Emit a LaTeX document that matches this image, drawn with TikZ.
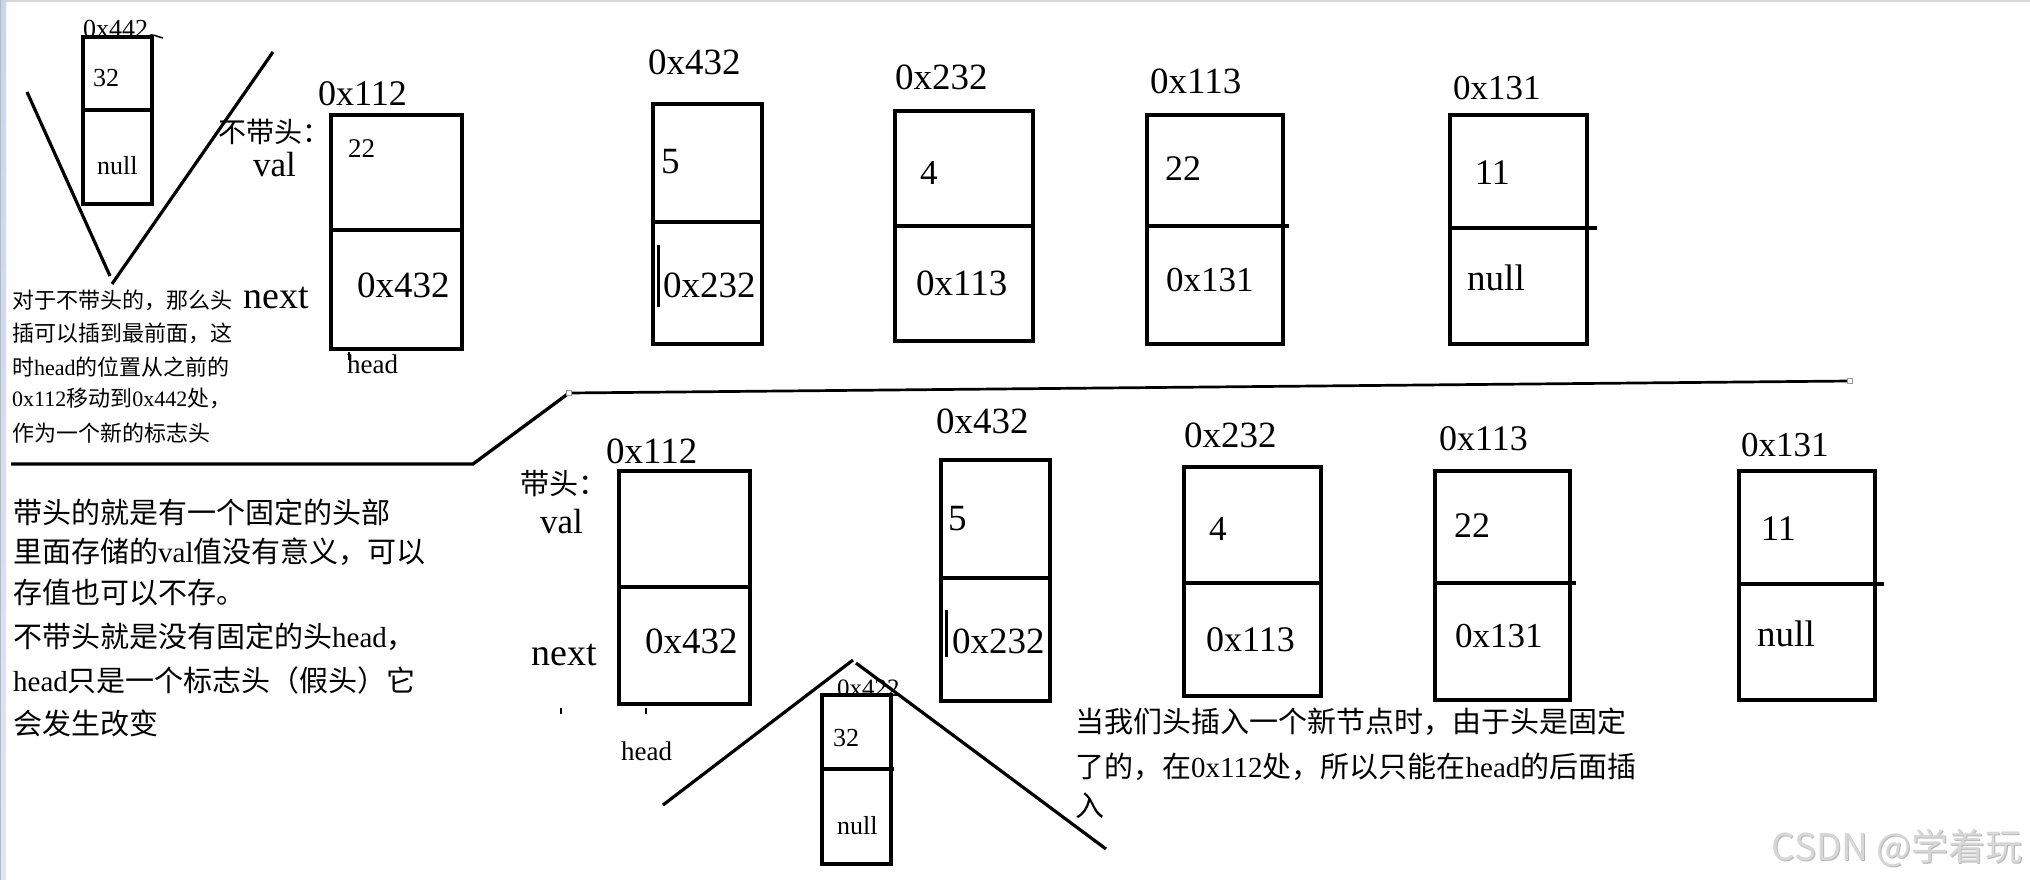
\documentclass[tikz,border=0pt]{standalone}
\usepackage{fontspec}
\setmainfont{Liberation Serif}
\newfontfamily\cjk{Noto Sans CJK SC}
\newcommand\myfs[1]{\fontsize{#1}{#1}\selectfont}
\definecolor{stripblue}{RGB}{200,213,238}
\definecolor{stripblue2}{RGB}{222,231,247}
\definecolor{wmgray}{RGB}{215,215,215}
\tikzset{
  boxline/.style={line width=3.5pt},
  vline/.style={line width=3.2pt},
  lbl/.style={inner sep=0pt, anchor=base west},
  zh/.style={inner sep=0pt, anchor=west},
  endsq/.style={draw=gray!80, fill=white, line width=0.9pt},
}
\begin{document}
\begin{tikzpicture}[x=1pt,y=-1pt]
\fill[white] (0,0) rectangle (2030,880);
\path[use as bounding box] (0,0) rectangle (2030,880);
% frame of the screenshot
\shade[top color=stripblue, bottom color=stripblue2] (1,0) rectangle (6,880);
\fill[gray!55] (0,0) rectangle (1,880);
\fill[gray!30] (6,0) rectangle (2030,2.5);

% ===== top-left: new node 0x442 and V =====
\node[lbl, font=\myfs{26}] (a442) at (83,38) {0x442};
\draw[line width=1.5pt] (148,36) .. controls (153,33) and (157,37) .. (163,38);
\draw[boxline] (83,37) rectangle (152,204);
\draw[boxline] (83,110) -- (154,110);
\node[lbl, font=\myfs{26}] (a32) at (93,87) {32};
\node[lbl, font=\myfs{26}] (anull) at (97,175) {null};
\draw[vline] (27,92) -- (110,276);
\draw[vline] (112,284) -- (273,52);

% text block upper-left
\node[zh, font=\cjk\myfs{22}] (u1) at (12,300) {对于不带头的，那么头};
\node[zh, font=\cjk\myfs{22}] (u2) at (12,333) {插可以插到最前面，这};
\node[zh, font=\myfs{22}] (u3) at (12,367) {{\cjk 时}head{\cjk 的位置从之前的}};
\node[zh, font=\myfs{22}] (u4) at (12,398) {0x112{\cjk 移动到}0x442{\cjk 处，}};
\node[zh, font=\cjk\myfs{22}] (u5) at (12,433) {作为一个新的标志头};

% ===== top row =====
\node[zh, font=\cjk\myfs{28}] (nohead) at (218,132) {不带头：};
\node[lbl, font=\myfs{35}] (tval) at (253,177) {val};
\node[lbl, font=\myfs{38}] (tnext) at (243,308) {next};

% 0x112
\node[lbl, font=\myfs{36}] (t112) at (318,106) {0x112};
\draw[boxline] (331,115) rectangle (462,349);
\draw[boxline] (331,230) -- (462,230);
\node[lbl, font=\myfs{27}] (t112v) at (348,158) {22};
\node[lbl, font=\myfs{37}] (t112n) at (357,297) {0x432};
\draw[line width=1.2pt] (349,352) -- (349,360);
\node[lbl, font=\myfs{27}] (thead) at (347,373) {head};

% 0x432
\node[lbl, font=\myfs{37}] (t432) at (648,75) {0x432};
\draw[boxline] (653,104) rectangle (762,344);
\draw[boxline] (653,222) -- (762,222);
\draw[line width=3pt] (658,245) -- (658,307);
\node[lbl, font=\myfs{37}] (t432v) at (661,174) {5};
\node[lbl, font=\myfs{37}] (t432n) at (663,297) {0x232};

% 0x232
\node[lbl, font=\myfs{37}] (t232) at (895,90) {0x232};
\draw[boxline] (895,111) rectangle (1033,341);
\draw[boxline] (893,226) -- (1033,226);
\node[lbl, font=\myfs{35}] (t232v) at (920,184) {4};
\node[lbl, font=\myfs{37}] (t232n) at (916,295) {0x113};

% 0x113
\node[lbl, font=\myfs{37}] (t113) at (1150,94) {0x113};
\draw[boxline] (1147,115) rectangle (1283,344);
\draw[boxline] (1147,226) -- (1289,226);
\node[lbl, font=\myfs{36}] (t113v) at (1165,181) {22};
\node[lbl, font=\myfs{35}] (t113n) at (1166,291) {0x131};

% 0x131
\node[lbl, font=\myfs{35}] (t131) at (1453,100) {0x131};
\draw[boxline] (1450,115) rectangle (1587,344);
\draw[boxline] (1450,228) -- (1597,228);
\node[lbl, font=\myfs{36}] (t131v) at (1475,184) {11};
\node[lbl, font=\myfs{37}] (t131n) at (1467,290) {null};

% ===== separator =====
\draw[line width=3.3pt] (11,464) -- (473,464) -- (569,393);
\draw[line width=2.7pt] (569,393) -- (1850,381);
\draw[endsq] (566.5,390.5) rectangle (571.5,395.5);
\draw[endsq] (1847.5,378.5) rectangle (1852.5,383.5);

% lower-left text block
\node[zh, font=\cjk\myfs{29}] (l1) at (13,512) {带头的就是有一个固定的头部};
\node[zh, font=\myfs{29}] (l2) at (13,552) {{\cjk 里面存储的}val{\cjk 值没有意义，可以}};
\node[zh, font=\cjk\myfs{29}] (l3) at (13,593) {存值也可以不存。};
\node[zh, font=\myfs{29}] (l4) at (13,637) {{\cjk 不带头就是没有固定的头}head{\cjk ，}};
\node[zh, font=\myfs{29}] (l5) at (13,680) {head{\cjk 只是一个标志头（假头）它}};
\node[zh, font=\cjk\myfs{29}] (l6) at (13,723) {会发生改变};

% ===== bottom row =====
\node[zh, font=\cjk\myfs{29}] (withhead) at (520,484) {带头：};
\node[lbl, font=\myfs{35}] (bval) at (540,533) {val};
\node[lbl, font=\myfs{38}] (bnext) at (531,665) {next};

% 0x112
\node[lbl, font=\myfs{37}] (b112) at (606,463) {0x112};
\draw[boxline] (619,471) rectangle (750,704);
\draw[boxline] (619,587) -- (750,587);
\node[lbl, font=\myfs{37}] (b112n) at (645,653) {0x432};
\draw[line width=1.2pt] (561,708) -- (561,714);
\draw[line width=1.2pt] (646,708) -- (646,714);
\node[lbl, font=\myfs{27}] (bhead) at (621,760) {head};

% 0x432
\node[lbl, font=\myfs{37}] (b432) at (936,433) {0x432};
\draw[boxline] (941,460) rectangle (1050,701);
\draw[boxline] (941,578) -- (1050,578);
\draw[line width=3pt] (946,610) -- (946,657);
\node[lbl, font=\myfs{37}] (b432v) at (948,530) {5};
\node[lbl, font=\myfs{37}] (b432n) at (952,653) {0x232};

% new node 0x422 under roof
\node[lbl, font=\myfs{25}] (b422) at (837,696) {0x422};
\draw[boxline] (822,695) rectangle (891,864);
\draw[boxline] (822,769) -- (894,769);
\node[lbl, font=\myfs{26}] (b422v) at (833,746) {32};
\node[lbl, font=\myfs{26}] (b422n) at (837,834) {null};
\draw[vline] (663,805) -- (853,660);
\draw[vline] (856,663) -- (1106,849);

% bottom explanation text
\node[zh, font=\cjk\myfs{29}] (r1) at (1075,722) {当我们头插入一个新节点时，由于头是固定};
\node[zh, font=\myfs{29}] (r2) at (1075,767) {{\cjk 了的，在}0x112{\cjk 处，所以只能在}head{\cjk 的后面插}};
\node[zh, font=\cjk\myfs{29}] (r3) at (1075,806) {入};

% 0x232
\node[lbl, font=\myfs{37}] (b232) at (1184,447) {0x232};
\draw[boxline] (1184,467) rectangle (1321,696);
\draw[boxline] (1182,583) -- (1321,583);
\node[lbl, font=\myfs{35}] (b232v) at (1209,540) {4};
\node[lbl, font=\myfs{36}] (b232n) at (1206,651) {0x113};

% 0x113
\node[lbl, font=\myfs{36}] (b113) at (1439,450) {0x113};
\draw[boxline] (1435,471) rectangle (1570,700);
\draw[boxline] (1435,583) -- (1576,583);
\node[lbl, font=\myfs{36}] (b113v) at (1454,537) {22};
\node[lbl, font=\myfs{35}] (b113n) at (1455,647) {0x131};

% 0x131
\node[lbl, font=\myfs{35}] (b131) at (1741,456) {0x131};
\draw[boxline] (1739,471) rectangle (1875,700);
\draw[boxline] (1739,584) -- (1884,584);
\node[lbl, font=\myfs{36}] (b131v) at (1761,540) {11};
\node[lbl, font=\myfs{37}] (b131n) at (1757,646) {null};

% watermark
\node[inner sep=0pt, anchor=base east, font=\cjk\myfs{37}, text=gray!55] (wms) at (2024,861) {CSDN @学着玩};
\node[inner sep=0pt, anchor=base east, font=\cjk\myfs{37}, text=wmgray] (wm) at (2023,860) {CSDN @学着玩};
\end{tikzpicture}
\end{document}
